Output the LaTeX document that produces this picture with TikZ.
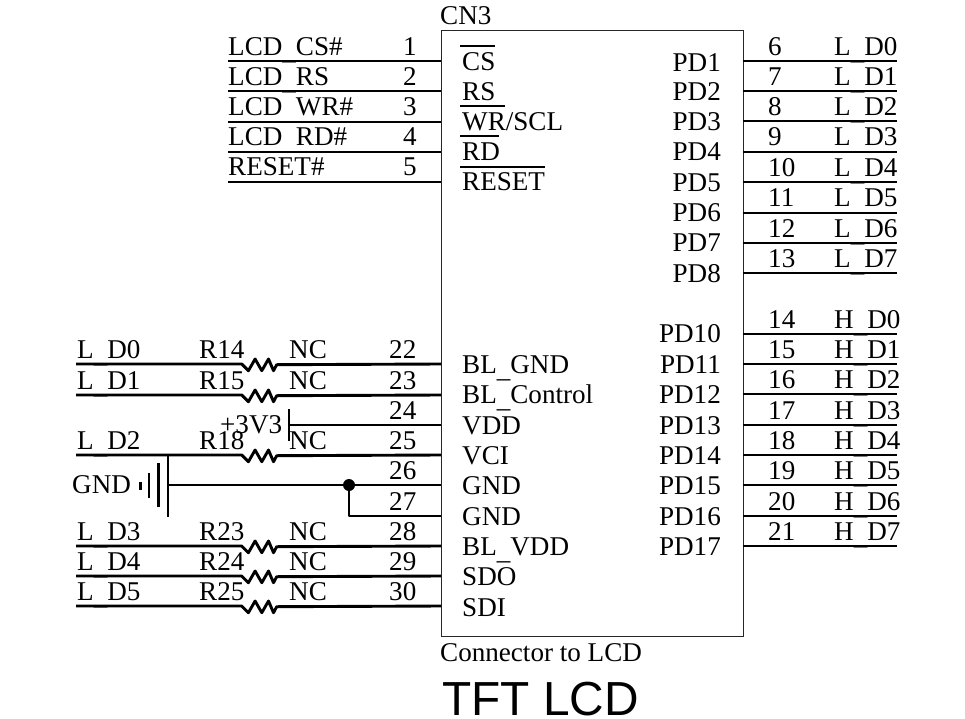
\documentclass[tikz,border=0pt]{standalone}
\usepackage{fontspec}
\setmainfont{Liberation Serif}
\setsansfont{Liberation Sans}
\newcommand{\rzig}{-- ++(6.7,6.7) -- ++(6.7,-11.7) -- ++(6.7,11.7) -- ++(6.7,-11.7) -- ++(5,11.7) -- ++(3.2,-6)}
\newcommand{\uscore}{\raisebox{-3.6pt}{\_}}
\tikzset{
  lbl/.style={anchor=base west,inner sep=0pt,yshift=-0.7pt},
  rlbl/.style={anchor=base east,inner sep=0pt,yshift=-0.7pt,xshift=1pt},
  wire/.style={line width=2.9pt,line join=round},
}
\begin{document}
\begin{tikzpicture}[x=1pt,y=-1pt,font=\fontsize{27.1}{30}\selectfont]
\useasboundingbox (0,0) rectangle (965,719);
\node (cn3) at (592,333.5)[draw=black!85,line width=1pt,minimum width=302pt,minimum height=605pt,inner sep=0pt]{};
\node (cn3name) at (440,24)[lbl]{CN3};
\node (cn3text) at (440,661)[lbl]{Connector to LCD};
\node (title) at (442,715)[lbl,yshift=0.7pt,font=\fontsize{47.8}{50}\sffamily]{TFT LCD};

% top left pins
\begin{scope}
\coordinate (a1) at (441,61); \coordinate (b1) at (228,61); \draw[wire] (b1)--(a1);
\coordinate (a2) at (441,91); \coordinate (b2) at (228,91); \draw[wire] (b2)--(a2);
\coordinate (a3) at (441,122); \coordinate (b3) at (228,122); \draw[wire] (b3)--(a3);
\coordinate (a4) at (441,152); \coordinate (b4) at (228,152); \draw[wire] (b4)--(a4);
\coordinate (a5) at (441,182); \coordinate (b5) at (228,182); \draw[wire] (b5)--(a5);
\node (net1) at (228,55)[lbl]{LCD\uscore CS\#}; \node (n1) at (403,55)[lbl]{1}; \node (pin1) at (462,70)[lbl]{CS};
\node (net2) at (228,85)[lbl]{LCD\uscore RS}; \node (n2) at (403,85)[lbl]{2}; \node (pin2) at (462,100)[lbl]{RS};
\node (net3) at (228,115)[lbl]{LCD\uscore WR\#}; \node (n3) at (403,115)[lbl]{3}; \node (pin3) at (462,130)[lbl]{WR/SCL};
\node (net4) at (228,145)[lbl]{LCD\uscore RD\#}; \node (n4) at (403,145)[lbl]{4}; \node (pin4) at (462,160)[lbl]{RD};
\node (net5) at (228,175)[lbl]{RESET\#}; \node (n5) at (403,175)[lbl]{5}; \node (pin5) at (462,190)[lbl]{RESET};
\draw[line width=2.4pt] (460,46)--(495,46);
\draw[line width=2.4pt] (460,106)--(505,106);
\draw[line width=2.4pt] (460,136)--(499,136);
\draw[line width=2.4pt] (460,167)--(545,167);
\end{scope}

% right pins
\begin{scope}
\coordinate (a6) at (743,61); \coordinate (b6) at (897,61); \draw[wire] (a6)--(b6);
\coordinate (a7) at (743,91); \coordinate (b7) at (897,91); \draw[wire] (a7)--(b7);
\coordinate (a8) at (743,121); \coordinate (b8) at (897,121); \draw[wire] (a8)--(b8);
\coordinate (a9) at (743,152); \coordinate (b9) at (897,152); \draw[wire] (a9)--(b9);
\coordinate (a10) at (743,182); \coordinate (b10) at (897,182); \draw[wire] (a10)--(b10);
\coordinate (a11) at (743,213); \coordinate (b11) at (897,213); \draw[wire] (a11)--(b11);
\coordinate (a12) at (743,243); \coordinate (b12) at (897,243); \draw[wire] (a12)--(b12);
\coordinate (a13) at (743,273); \coordinate (b13) at (897,273); \draw[wire] (a13)--(b13);
\node (pin6) at (720,71)[rlbl]{PD1}; \node (n6) at (768,55)[lbl]{6}; \node (net6) at (834,55)[lbl]{L\uscore D0};
\node (pin7) at (720,100)[rlbl]{PD2}; \node (n7) at (768,85)[lbl]{7}; \node (net7) at (834,85)[lbl]{L\uscore D1};
\node (pin8) at (720,130)[rlbl]{PD3}; \node (n8) at (768,115)[lbl]{8}; \node (net8) at (834,115)[lbl]{L\uscore D2};
\node (pin9) at (720,160)[rlbl]{PD4}; \node (n9) at (768,145)[lbl]{9}; \node (net9) at (834,145)[lbl]{L\uscore D3};
\node (pin10) at (720,191)[rlbl]{PD5}; \node (n10) at (768,176)[lbl]{10}; \node (net10) at (834,176)[lbl]{L\uscore D4};
\node (pin11) at (720,221)[rlbl]{PD6}; \node (n11) at (768,206)[lbl]{11}; \node (net11) at (834,206)[lbl]{L\uscore D5};
\node (pin12) at (720,251)[rlbl]{PD7}; \node (n12) at (768,237)[lbl]{12}; \node (net12) at (834,237)[lbl]{L\uscore D6};
\node (pin13) at (720,282)[rlbl]{PD8}; \node (n13) at (768,267)[lbl]{13}; \node (net13) at (834,267)[lbl]{L\uscore D7};

\coordinate (a14) at (743,334); \coordinate (b14) at (897,334); \draw[wire] (a14)--(b14);
\coordinate (a15) at (743,364); \coordinate (b15) at (897,364); \draw[wire] (a15)--(b15);
\coordinate (a16) at (743,394); \coordinate (b16) at (897,394); \draw[wire] (a16)--(b16);
\coordinate (a17) at (743,425); \coordinate (b17) at (897,425); \draw[wire] (a17)--(b17);
\coordinate (a18) at (743,455); \coordinate (b18) at (897,455); \draw[wire] (a18)--(b18);
\coordinate (a19) at (743,485); \coordinate (b19) at (897,485); \draw[wire] (a19)--(b19);
\coordinate (a20) at (743,516); \coordinate (b20) at (897,516); \draw[wire] (a20)--(b20);
\coordinate (a21) at (743,546); \coordinate (b21) at (897,546); \draw[wire] (a21)--(b21);
\node (pin14) at (720,342)[rlbl]{PD10}; \node (n14) at (768,328)[lbl]{14}; \node (net14) at (834,328)[lbl]{H\uscore D0};
\node (pin15) at (720,373)[rlbl]{PD11}; \node (n15) at (768,358)[lbl]{15}; \node (net15) at (834,358)[lbl]{H\uscore D1};
\node (pin16) at (720,403)[rlbl]{PD12}; \node (n16) at (768,388)[lbl]{16}; \node (net16) at (834,388)[lbl]{H\uscore D2};
\node (pin17) at (720,434)[rlbl]{PD13}; \node (n17) at (768,419)[lbl]{17}; \node (net17) at (834,419)[lbl]{H\uscore D3};
\node (pin18) at (720,464)[rlbl]{PD14}; \node (n18) at (768,449)[lbl]{18}; \node (net18) at (834,449)[lbl]{H\uscore D4};
\node (pin19) at (720,494)[rlbl]{PD15}; \node (n19) at (768,479)[lbl]{19}; \node (net19) at (834,479)[lbl]{H\uscore D5};
\node (pin20) at (720,525)[rlbl]{PD16}; \node (n20) at (768,510)[lbl]{20}; \node (net20) at (834,510)[lbl]{H\uscore D6};
\node (pin21) at (720,555)[rlbl]{PD17}; \node (n21) at (768,540)[lbl]{21}; \node (net21) at (834,540)[lbl]{H\uscore D7};
\end{scope}

% bottom left pins
\begin{scope}
\coordinate (a22) at (441,364); \coordinate (b22) at (76,364); \coordinate (r22) at (241.7,364);
\coordinate (a23) at (441,395); \coordinate (b23) at (76,395); \coordinate (r23) at (241.7,395);
\coordinate (a25) at (441,455); \coordinate (b25) at (76,455); \coordinate (r25) at (241.7,455);
\coordinate (a28) at (441,546); \coordinate (b28) at (76,546); \coordinate (r28) at (241.7,546);
\coordinate (a29) at (441,576); \coordinate (b29) at (76,576); \coordinate (r29) at (241.7,576);
\coordinate (a30) at (441,606); \coordinate (b30) at (76,606); \coordinate (r30) at (241.7,606);
\draw[wire] (b22)--(r22) \rzig --(a22);
\draw[wire] (b23)--(r23) \rzig --(a23);
\draw[wire] (b25)--(r25) \rzig --(a25);
\draw[wire] (b28)--(r28) \rzig --(a28);
\draw[wire] (b29)--(r29) \rzig --(a29);
\draw[wire] (b30)--(r30) \rzig --(a30);
\node (net22) at (77,358)[lbl]{L\uscore D0}; \node (res22) at (199,358)[lbl]{R14}; \node (nc22) at (289,358)[lbl]{NC};
\node (net23) at (77,389)[lbl]{L\uscore D1}; \node (res23) at (199,389)[lbl]{R15}; \node (nc23) at (289,389)[lbl]{NC};
\node (net25) at (77,449)[lbl]{L\uscore D2}; \node (res25) at (199,449)[lbl]{R18}; \node (nc25) at (289,449)[lbl]{NC};
\node (net28) at (77,540)[lbl]{L\uscore D3}; \node (res28) at (199,540)[lbl]{R23}; \node (nc28) at (289,540)[lbl]{NC};
\node (net29) at (77,570)[lbl]{L\uscore D4}; \node (res29) at (199,570)[lbl]{R24}; \node (nc29) at (289,570)[lbl]{NC};
\node (net30) at (77,600)[lbl]{L\uscore D5}; \node (res30) at (199,600)[lbl]{R25}; \node (nc30) at (289,600)[lbl]{NC};
\node (n22) at (389,358)[lbl]{22}; \node (pin22) at (462,373)[lbl]{BL\uscore GND};
\node (n23) at (389,389)[lbl]{23}; \node (pin23) at (462,403)[lbl]{BL\uscore Control};
\node (n24) at (389,419)[lbl]{24}; \node (pin24) at (462,434)[lbl]{VDD};
\node (n25) at (389,449)[lbl]{25}; \node (pin25) at (462,464)[lbl]{VCI};
\node (n26) at (389,479)[lbl]{26}; \node (pin26) at (462,494)[lbl]{GND};
\node (n27) at (389,510)[lbl]{27}; \node (pin27) at (462,525)[lbl]{GND};
\node (n28) at (389,540)[lbl]{28}; \node (pin28) at (462,555)[lbl]{BL\uscore VDD};
\node (n29) at (389,570)[lbl]{29}; \node (pin29) at (462,585)[lbl]{SDO};
\node (n30) at (389,600)[lbl]{30}; \node (pin30) at (462,616)[lbl]{SDI};

% +3V3 and GND
\node (vcc) at (220,433)[lbl]{+3V3};
\coordinate (a24) at (441,425); \coordinate (b24) at (289,425); \draw[wire] (b24)--(a24);
\coordinate (vcctop) at (289,409); \coordinate (vccbot) at (289,441); \draw[wire] (vcctop)--(vccbot);
\node (gnd) at (72,493)[lbl]{GND};
\coordinate (a26) at (441,485); \coordinate (b26) at (168,485); \coordinate (a27) at (441,516);
\coordinate (dot) at (349,485); \coordinate (bend) at (349,516);
\draw[wire] (b26)--(a26);
\draw[wire] (dot)--(bend)--(a27);
\fill (dot) circle (6);
\draw[wire] (168,455)--(168,517);
\draw[wire] (158.7,463)--(158.7,507);
\draw[wire] (149,473)--(149,498);
\draw[wire] (140.7,482)--(140.7,490);
\end{scope}
\end{tikzpicture}
\end{document}
